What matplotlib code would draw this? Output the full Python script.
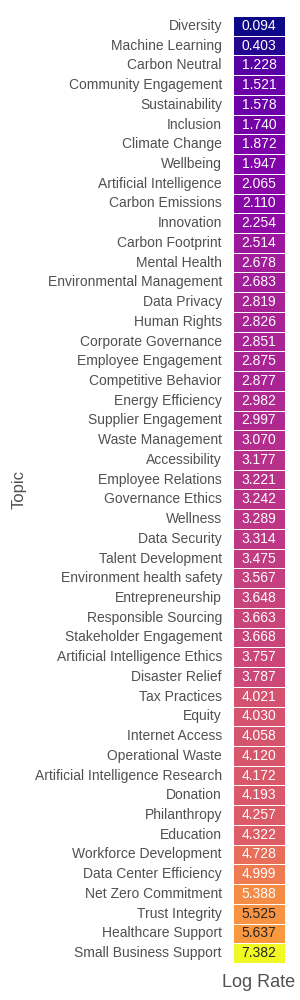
import matplotlib
matplotlib.use("Agg")
import matplotlib.pyplot as plt
import numpy as np
import pandas as pd
import seaborn as sns

topics = [
    "Diversity", "Machine Learning", "Carbon Neutral", "Community Engagement",
    "Sustainability", "Inclusion", "Climate Change", "Wellbeing",
    "Artificial Intelligence", "Carbon Emissions", "Innovation", "Carbon Footprint",
    "Mental Health", "Environmental Management", "Data Privacy", "Human Rights",
    "Corporate Governance", "Employee Engagement", "Competitive Behavior",
    "Energy Efficiency", "Supplier Engagement", "Waste Management", "Accessibility",
    "Employee Relations", "Governance Ethics", "Wellness", "Data Security",
    "Talent Development", "Environment health safety", "Entrepreneurship",
    "Responsible Sourcing", "Stakeholder Engagement", "Artificial Intelligence Ethics",
    "Disaster Relief", "Tax Practices", "Equity", "Internet Access", "Operational Waste",
    "Artificial Intelligence Research", "Donation", "Philanthropy", "Education",
    "Workforce Development", "Data Center Efficiency", "Net Zero Commitment",
    "Trust Integrity", "Healthcare Support", "Small Business Support",
]
log_rate = [
    0.094, 0.403, 1.228, 1.521, 1.578, 1.740, 1.872, 1.947, 2.065, 2.110,
    2.254, 2.514, 2.678, 2.683, 2.819, 2.826, 2.851, 2.875, 2.877, 2.982,
    2.997, 3.070, 3.177, 3.221, 3.242, 3.289, 3.314, 3.475, 3.567, 3.648,
    3.663, 3.668, 3.757, 3.787, 4.021, 4.030, 4.058, 4.120, 4.172, 4.193,
    4.257, 4.322, 4.728, 4.999, 5.388, 5.525, 5.637, 7.382,
]

sns.set_theme(style="white")
plt.rcParams["font.family"] = ["Liberation Sans", "DejaVu Sans"]

df = pd.DataFrame({"Log Rate": log_rate}, index=pd.Index(topics, name="Topic"))

fig = plt.figure(figsize=(3, 10), dpi=100)
ax = fig.add_axes([0.777, 0.037, 0.173, 0.947])
sns.heatmap(df, ax=ax, cmap="plasma", annot=True, fmt=".3f", cbar=False,
            linewidths=0.5, linecolor="white", annot_kws={"fontsize": 10})

ax.tick_params(axis="both", length=0, pad=8)
ax.set_yticklabels(topics, fontsize=10, color="#505050", rotation=0)
ax.set_xticklabels(["Log Rate"], fontsize=13, color="#505050")
ax.set_ylabel("Topic", fontsize=12, color="#505050", labelpad=6)
ax.set_xlabel("")

fig.savefig("out.png", dpi=100)
